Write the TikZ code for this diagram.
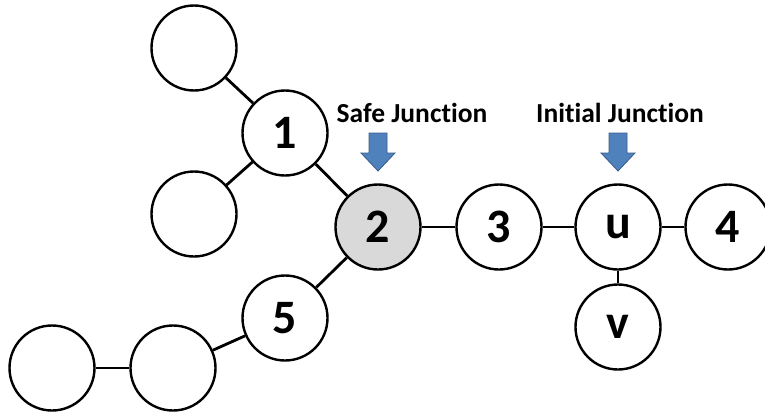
\documentclass[tikz,border=0pt]{standalone}
\usepackage{fontspec}
\setmainfont{Carlito}[Ligatures=NoCommon]
\usetikzlibrary{positioning}

\definecolor{arrowblue}{HTML}{4F81BD}
\definecolor{arrowedge}{HTML}{385D8A}
\definecolor{safegray}{HTML}{D9D9D9}

\begin{document}
\begin{tikzpicture}[x=1pt,y=-1pt,
    junction/.style={circle, draw, line width=2.4pt, minimum size=85pt, inner sep=0pt,
        fill=white, font=\fontsize{48}{48}\selectfont\bfseries},
    label/.style={font=\fontsize{27.5}{27.5}\selectfont\bfseries, anchor=base, inner sep=0pt},
    link/.style={line width=2.8pt}]
\useasboundingbox (0,0) rectangle (765,415);

% Draw the junctions
\node[junction] (leafa) at (194,48) {};
\node[junction] (one) at (285,133) {1};
\node[junction] (leafb) at (194,214) {};
\node[junction, fill=safegray] (two) at (378,227) {2};
\node[junction] (three) at (499,227) {3};
\node[junction] (u) at (618,227) {u};
\node[junction] (four) at (728,227) {4};
\node[junction] (v) at (618,327) {v};
\node[junction] (five) at (285,318) {5};
\node[junction] (leafc) at (173,368) {};
\node[junction] (leafd) at (52,368) {};

% Draw the links
\draw[link] (leafa) -- (one);
\draw[link] (leafb) -- (one);
\draw[link] (one) -- (two);
\draw[link] (two) -- (three);
\draw[link] (three) -- (u);
\draw[link] (u) -- (four);
\draw[link] (u) -- (v);
\draw[link] (two) -- (five);
\draw[link] (five) -- (leafc);
\draw[link] (leafc) -- (leafd);

% Labels and markers
\node[label] (safe) at (412,122) {Safe Junction};
\node[label] (initial) at (620,122) {Initial Junction};
\foreach \x in {378,618}{
    \draw[fill=arrowblue, draw=arrowedge, line width=0.8pt]
        (\x-9,133) -- (\x+9,133) -- (\x+9,153) -- (\x+17,153) -- (\x,171)
        -- (\x-17,153) -- (\x-9,153) -- cycle;
}

\end{tikzpicture}
\end{document}
